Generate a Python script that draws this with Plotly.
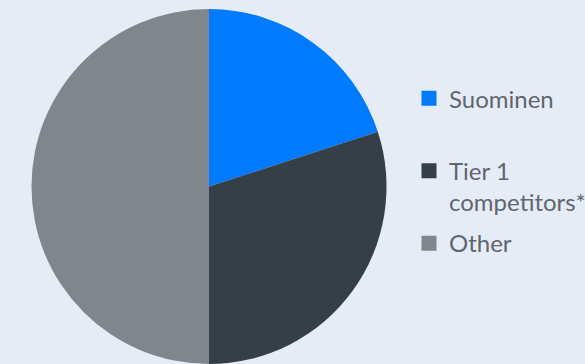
import plotly.graph_objects as go

categories = ["Suominen", "Tier 1<br>competitors*", "Other"]
values = [20, 30, 50]
colors = ["#007bff", "#343f48", "#7f878c"]

fig = go.Figure(go.Pie(
    labels=categories, values=values, sort=False, direction="clockwise", rotation=0,
    marker=dict(colors=colors, line=dict(width=0)),
    textinfo="none", hoverinfo="label+percent", showlegend=False,
    domain=dict(x=[31/585, 387/585], y=[0, 355/364]),
))
# legend entries
for i, (lab, col) in enumerate(zip(categories, colors)):
    name = lab + "<br> " if "<br>" not in lab else lab
    fig.add_trace(go.Scatter(
        x=[None], y=[None], mode="markers", name=name, legendgroup=f"g{i}",
        marker=dict(symbol="square", size=15, color=col, line=dict(width=0)),
        hoverinfo="skip",
    ))
fig.update_layout(
    width=585, height=364,
    margin=dict(l=0, r=0, t=0, b=0, autoexpand=False),
    paper_bgcolor="#e6ecf5", plot_bgcolor="#e6ecf5",
    xaxis=dict(visible=False), yaxis=dict(visible=False),
    font=dict(family="Lato, Open Sans, sans-serif", color="#5f6670", size=24),
    legend=dict(x=409/585, y=0.487, xanchor="left", yanchor="middle", valign="top",
                tracegroupgap=7, font=dict(size=24, color="#5f6670"),
                bgcolor="rgba(0,0,0,0)"),
)
fig.write_html("out.html")
